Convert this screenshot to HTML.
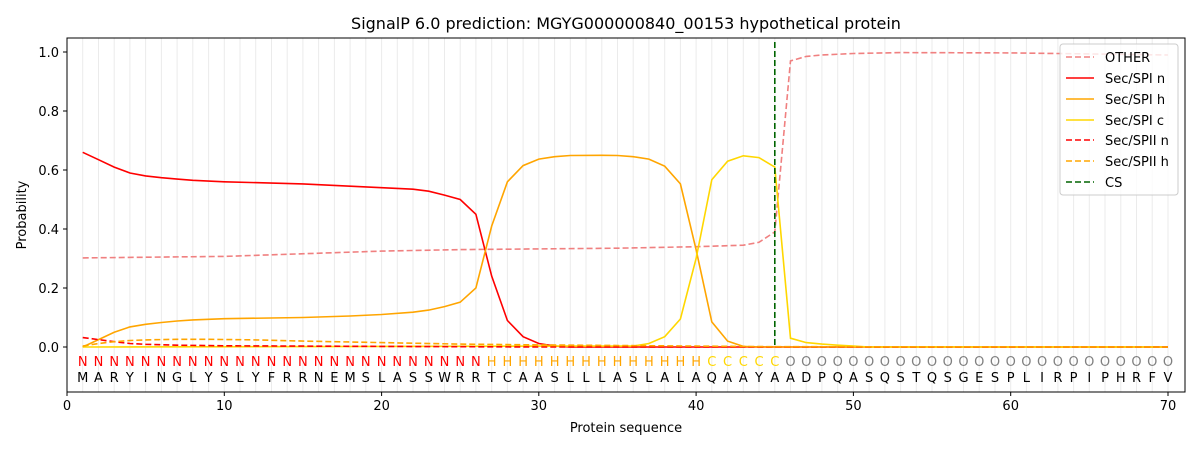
<!DOCTYPE html>
<html><head><meta charset="utf-8"><style>body{margin:0;background:#fff}svg{display:block;font-family:"DejaVu Sans","Liberation Sans",sans-serif}</style></head><body>
<svg width="1200" height="450" viewBox="0 0 1200 450">
<g stroke="#ebebeb" stroke-width="1">
<path d="M82.7 38V392M98.5 38V392M114.2 38V392M129.9 38V392M145.6 38V392M161.4 38V392M177.1 38V392M192.8 38V392M208.6 38V392M224.3 38V392M240 38V392M255.7 38V392M271.5 38V392M287.2 38V392M302.9 38V392M318.6 38V392M334.4 38V392M350.1 38V392M365.8 38V392M381.6 38V392M397.3 38V392M413 38V392M428.7 38V392M444.5 38V392M460.2 38V392M475.9 38V392M491.7 38V392M507.4 38V392M523.1 38V392M538.8 38V392M554.6 38V392M570.3 38V392M586 38V392M601.8 38V392M617.5 38V392M633.2 38V392M648.9 38V392M664.7 38V392M680.4 38V392M696.1 38V392M711.8 38V392M727.6 38V392M743.3 38V392M759 38V392M774.8 38V392M790.5 38V392M806.2 38V392M821.9 38V392M837.7 38V392M853.4 38V392M869.1 38V392M884.9 38V392M900.6 38V392M916.3 38V392M932 38V392M947.8 38V392M963.5 38V392M979.2 38V392M995 38V392M1010.7 38V392M1026.4 38V392M1042.1 38V392M1057.9 38V392M1073.6 38V392M1089.3 38V392M1105 38V392M1120.8 38V392M1136.5 38V392M1152.2 38V392M1168 38V392"/>
</g>
<g fill="none" stroke-width="1.6">
<polyline stroke="#f08080" stroke-dasharray="6,3" points="82.7,257.9 224.3,256.4 381.6,251.1 460.2,249.6 617.5,248.2 696.1,246.7 743.3,245.2 759,242.3 774.8,231.9 790.5,60.9 806.2,56.4 821.9,55 853.4,53.5 900.6,52.6 1010.7,52.9 1168,55"/>
<polyline stroke="#ff0000" points="82.7,152.3 98.5,159.7 114.2,167.1 129.9,173 145.6,175.9 161.4,177.7 177.1,179.1 192.8,180.3 224.3,181.8 302.9,183.9 381.6,187.7 413,189.2 428.7,191.2 444.5,195.1 460.2,199.5 475.9,214.3 491.7,276.2 507.4,320.5 523.1,336.7 538.8,343.5 554.6,346.1 570.3,347 1168,347"/>
<polyline stroke="#ffa500" points="82.7,347 98.5,339.6 114.2,332.3 129.9,326.9 145.6,324.3 161.4,322.5 177.1,321 192.8,319.9 224.3,318.7 302.9,317.5 350.1,316 381.6,314.5 413,312.2 428.7,310.1 444.5,306.6 460.2,302.2 475.9,288 491.7,226 507.4,181.8 523.1,165.6 538.8,159.1 554.6,156.7 570.3,155.5 601.8,155.3 617.5,155.5 633.2,156.7 648.9,159.1 664.7,166.2 680.4,183.9 696.1,249.7 711.8,321.9 727.6,341.1 743.3,346.4 759,347 1168,347"/>
<polyline stroke="#ffd700" points="82.7,347 570.3,346.1 633.2,346.1 648.9,343.5 664.7,336.7 680.4,319 696.1,258.5 711.8,179.7 727.6,161.2 743.3,155.8 759,157.6 774.8,167.1 790.5,338.2 806.2,342.6 821.9,344.1 837.7,345.2 853.4,346.1 869.1,347 1168,347"/>
<polyline stroke="#ff0000" stroke-dasharray="6,3" points="82.7,337.6 98.5,339.6 114.2,341.7 129.9,343.5 145.6,344.3 177.1,345.2 224.3,345.8 381.6,346.4 538.8,347 1168,347"/>
<polyline stroke="#ffa500" stroke-dasharray="6,3" points="82.7,346.1 98.5,343.5 114.2,341.7 129.9,340.5 145.6,339.9 177.1,339.3 208.6,339.3 255.7,339.9 302.9,341.1 381.6,342.6 460.2,344.1 538.8,344.9 617.5,345.5 696.1,346.1 774.8,346.7 1168,347"/>
<line x1="774.8" y1="42" x2="774.8" y2="347" stroke="#006400" stroke-dasharray="6,3"/>
</g>
<g font-size="13" text-anchor="middle">
<text y="366" fill="#ff0000" x="82.7 98.5 114.2 129.9 145.6 161.4 177.1 192.8 208.6 224.3 240 255.7 271.5 287.2 302.9 318.6 334.4 350.1 365.8 381.6 397.3 413 428.7 444.5 460.2 475.9">NNNNNNNNNNNNNNNNNNNNNNNNNN</text>
<text y="366" fill="#ffa500" x="491.7 507.4 523.1 538.8 554.6 570.3 586 601.8 617.5 633.2 648.9 664.7 680.4 696.1">HHHHHHHHHHHHHH</text>
<text y="366" fill="#ffd700" x="711.8 727.6 743.3 759 774.8">CCCCC</text>
<text y="366" fill="#808080" x="790.5 806.2 821.9 837.7 853.4 869.1 884.9 900.6 916.3 932 947.8 963.5 979.2 995 1010.7 1026.4 1042.1 1057.9 1073.6 1089.3 1105 1120.8 1136.5 1152.2 1168">OOOOOOOOOOOOOOOOOOOOOOOOO</text>
<text y="382" fill="#000" x="82.7 98.5 114.2 129.9 145.6 161.4 177.1 192.8 208.6 224.3 240 255.7 271.5 287.2 302.9 318.6 334.4 350.1 365.8 381.6 397.3 413 428.7 444.5 460.2 475.9 491.7 507.4 523.1 538.8 554.6 570.3 586 601.8 617.5 633.2 648.9 664.7 680.4 696.1 711.8 727.6 743.3 759 774.8 790.5 806.2 821.9 837.7 853.4 869.1 884.9 900.6 916.3 932 947.8 963.5 979.2 995 1010.7 1026.4 1042.1 1057.9 1073.6 1089.3 1105 1120.8 1136.5 1152.2 1168">MARYINGLYSLYFRRNEMSLASSWRRTCAASLLLASLALAQAAYAADPQASQSTQSGESPLIRPIPHRFV</text>
</g>
<rect x="67" y="38" width="1118" height="354" fill="none" stroke="#000" stroke-width="1"/>
<g stroke="#000"><path d="M67 392v4M224.3 392v4M381.6 392v4M538.8 392v4M696.1 392v4M853.4 392v4M1010.7 392v4M1168 392v4M67 347h-4M67 288h-4M67 229h-4M67 170h-4M67 111h-4M67 52h-4"/></g>
<g font-size="13" fill="#000">
<g text-anchor="middle"><text x="67" y="410">0</text><text x="224.3" y="410">10</text><text x="381.6" y="410">20</text><text x="538.8" y="410">30</text><text x="696.1" y="410">40</text><text x="853.4" y="410">50</text><text x="1010.7" y="410">60</text><text x="1168" y="410">70</text>
<text x="626" y="432">Protein sequence</text>
<text x="626" y="29" font-size="16">SignalP 6.0 prediction: MGYG000000840_00153 hypothetical protein</text>
<text transform="translate(26,215) rotate(-90)">Probability</text></g>
<g text-anchor="end"><text x="59" y="352">0.0</text><text x="59" y="293">0.2</text><text x="59" y="234">0.4</text><text x="59" y="175">0.6</text><text x="59" y="116">0.8</text><text x="59" y="57">1.0</text></g>
</g>
<rect x="1060" y="44" width="118" height="151" rx="3" fill="#fff" fill-opacity="0.8" stroke="#ccc"/>
<g stroke-width="1.6" fill="none">
<line x1="1066" x2="1094" y1="57" y2="57" stroke="#f08080" stroke-dasharray="6,3"/>
<line x1="1066" x2="1094" y1="78" y2="78" stroke="#ff0000"/>
<line x1="1066" x2="1094" y1="99" y2="99" stroke="#ffa500"/>
<line x1="1066" x2="1094" y1="120" y2="120" stroke="#ffd700"/>
<line x1="1066" x2="1094" y1="140" y2="140" stroke="#ff0000" stroke-dasharray="6,3"/>
<line x1="1066" x2="1094" y1="161" y2="161" stroke="#ffa500" stroke-dasharray="6,3"/>
<line x1="1066" x2="1094" y1="182" y2="182" stroke="#006400" stroke-dasharray="6,3"/>
</g>
<g font-size="13" fill="#000">
<text x="1105" y="62">OTHER</text><text x="1105" y="83">Sec/SPI n</text><text x="1105" y="104">Sec/SPI h</text><text x="1105" y="125">Sec/SPI c</text><text x="1105" y="145">Sec/SPII n</text><text x="1105" y="166">Sec/SPII h</text><text x="1105" y="187">CS</text>
</g>
</svg>
</body></html>
